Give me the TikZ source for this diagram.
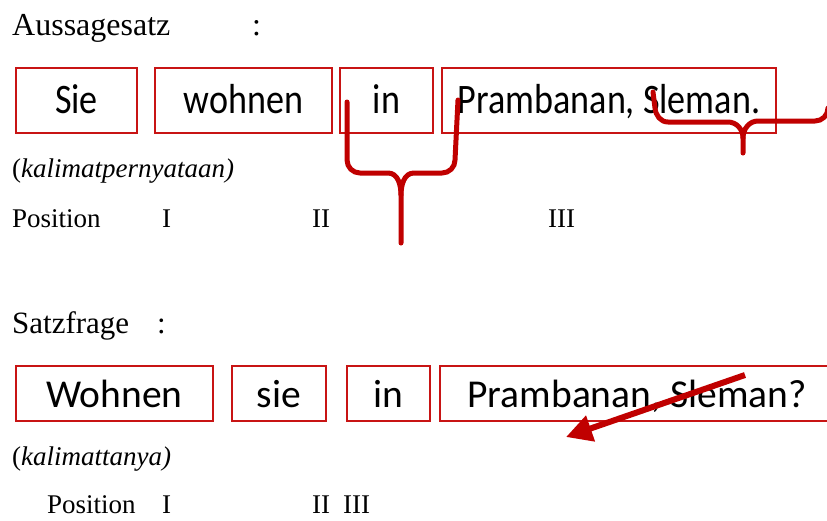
\documentclass[tikz,border=0pt]{standalone}
\usepackage{fontspec}
\setmainfont{Liberation Serif}
\newfontfamily\boxfont{Carlito}
\usetikzlibrary{arrows.meta}
\definecolor{darkred}{RGB}{192,0,0}
\definecolor{boxred}{RGB}{200,20,20}
\tikzset{
  lbl/.style={inner sep=0pt, anchor=base west, font=\fontsize{27}{27}\selectfont},
  big/.style={inner sep=0pt, anchor=base west, font=\fontsize{32}{32}\selectfont},
  wboxA/.style={draw=boxred, line width=2pt, inner sep=0pt, minimum height=65pt,
     text height=30pt, text depth=4pt, font=\boxfont\fontsize{42}{42}\selectfont},
  wboxB/.style={draw=boxred, line width=2pt, inner sep=0pt, minimum height=55pt,
     text height=30pt, text depth=3pt, font=\boxfont\fontsize{39.5}{39.5}\selectfont},
  bracestyle/.style={draw=darkred, line width=5pt, line cap=round, line join=round},
  arrowstyle/.style={draw=darkred, line width=6pt, -{Triangle[length=26pt,width=26pt]}}
}
\newcommand{\sq}[1]{\scalebox{0.86}[1]{#1}}
\begin{document}
\begin{tikzpicture}[x=1pt,y=-1pt]
\useasboundingbox (0,0) rectangle (827,520);
% top section
\node[big] (aus) at (12,35) {Aussagesatz};
\node[big] (auscolon) at (252,35) {:};
\node[wboxA, minimum width=121pt] (t1) at (76.5,100.5) {\sq{Sie}};
\node[wboxA, minimum width=177pt] (t2) at (243.5,100.5) {\sq{wohnen}};
\node[wboxA, minimum width=93pt] (t3) at (386.5,100.5) {\sq{in}};
\node[wboxA, minimum width=334pt] (t4) at (609,100.5) {\sq{Prambanan, Sleman.}};
\node[lbl] (kp) at (12,177) {(\textit{kalimatpernyataan)}};
\node[lbl] (pos1) at (12,227) {Position};
\node[lbl] (p1a) at (162,227) {I};
\node[lbl] (p1b) at (312,227) {II};
\node[lbl] (p1c) at (548,227) {III};
% braces
\draw[bracestyle] (347,102) -- (347,160) to[out=-90,in=180] (360,173) -- (388,173)
   to[out=0,in=90] (401,195) -- (401,243);
\draw[bracestyle] (458,100) -- (455,160) to[out=-90,in=0] (442,173) -- (414,173)
   to[out=180,in=90] (401,195);
\draw[bracestyle] (653,92) -- (655,108) to[out=-85,in=180] (668,122) -- (728,122)
   to[out=0,in=90] (743,138) -- (743,153);
\draw[bracestyle] (743,138) to[out=90,in=180] (758,121) -- (815,121) to[out=0,in=-90] (828,108);
% bottom section
\node[big, font=\fontsize{31}{31}\selectfont] (satz) at (12,333) {Satzfrage};
\node[big, font=\fontsize{31}{31}\selectfont] (satzcolon) at (157,333) {:};
\node[wboxB, minimum width=197pt] (b1) at (114.5,393.5) {Wohnen};
\node[wboxB, minimum width=94pt] (b2) at (279,393.5) {sie};
\node[wboxB, minimum width=83pt] (b3) at (388.5,393.5) {in};
\node[wboxB, minimum width=394pt] (b4) at (637,393.5) {Prambanan, Sleman?};
\node[lbl] (kt) at (12,465) {(\textit{kalimattanya)}};
\node[lbl] (pos2) at (47,513) {Position};
\node[lbl] (p2a) at (162,513) {I};
\node[lbl] (p2b) at (312,513) {II};
\node[lbl] (p2c) at (343,513) {III};
\coordinate (arrS) at (745,375);
\coordinate (arrE) at (566,437);
\draw[arrowstyle] (arrS) -- (arrE);
\end{tikzpicture}
\end{document}
